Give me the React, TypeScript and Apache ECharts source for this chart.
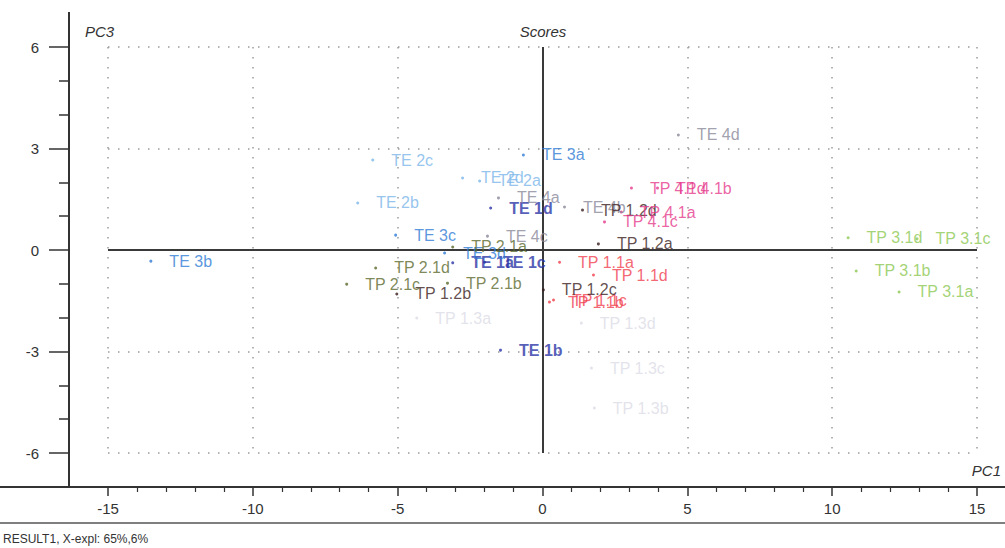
import React, { useEffect, useRef } from "react";
import * as echarts from "echarts";

// ---- data (PC1, PC3 scores) ----
const TE1_LABELS = ["TE 1a", "TE 1b", "TE 1c", "TE 1d"];
const TE1_PC1 = [-3.1, -1.45, -2.0, -1.79];
const TE1_PC3 = [-0.38, -2.96, -0.36, 1.24];

const TE2_LABELS = ["TE 2a", "TE 2b", "TE 2c", "TE 2d"];
const TE2_PC1 = [-2.17, -6.38, -5.86, -2.76];
const TE2_PC3 = [2.04, 1.39, 2.66, 2.13];

const TE3_LABELS = ["TE 3a", "TE 3b", "TE 3c", "TE 3d"];
const TE3_PC1 = [-0.66, -13.52, -5.07, -3.38];
const TE3_PC3 = [2.81, -0.33, 0.44, -0.09];

const TE4_LABELS = ["TE 4a", "TE 4b", "TE 4c", "TE 4d"];
const TE4_PC1 = [-1.52, 0.76, -1.9, 4.69];
const TE4_PC3 = [1.54, 1.27, 0.41, 3.4];

const TP11_LABELS = ["TP 1.1a", "TP 1.1b", "TP 1.1c", "TP 1.1d"];
const TP11_PC1 = [0.59, 0.24, 0.38, 1.76];
const TP11_PC3 = [-0.36, -1.54, -1.48, -0.74];

const TP12_LABELS = ["TP 1.2a", "TP 1.2b", "TP 1.2c", "TP 1.2d"];
const TP12_PC1 = [1.93, -5.03, 0.03, 1.38];
const TP12_PC3 = [0.18, -1.3, -1.18, 1.18];

const TP13_LABELS = ["TP 1.3a", "TP 1.3b", "TP 1.3c", "TP 1.3d"];
const TP13_PC1 = [-4.34, 1.79, 1.69, 1.34];
const TP13_PC3 = [-2.01, -4.67, -3.49, -2.16];

const TP21_LABELS = ["TP 2.1a", "TP 2.1b", "TP 2.1c", "TP 2.1d"];
const TP21_PC1 = [-3.1, -3.28, -6.76, -5.76];
const TP21_PC3 = [0.09, -0.98, -1.01, -0.53];

const TP31_LABELS = ["TP 3.1a", "TP 3.1b", "TP 3.1c", "TP 3.1d"];
const TP31_PC1 = [12.31, 10.83, 12.93, 10.55];
const TP31_PC3 = [-1.24, -0.62, 0.33, 0.36];

const TP41_LABELS = ["TP 4.1a", "TP 4.1b", "TP 4.1c", "TP 4.1d"];
const TP41_PC1 = [2.72, 3.97, 2.14, 3.07];
const TP41_PC3 = [1.12, 1.83, 0.83, 1.83];

const X_TICKS = { min: -15, max: 15, interval: 5 };
const Y_TICKS = { min: -6, max: 6, interval: 3 };

const FONT = "'Liberation Sans', Arial, sans-serif";

const GROUPS = [
  { labels: TE1_LABELS, x: TE1_PC1, y: TE1_PC3, color: "#2a34a6", bold: true },
  { labels: TE2_LABELS, x: TE2_PC1, y: TE2_PC3, color: "#7cb6ea", bold: false },
  { labels: TE3_LABELS, x: TE3_PC1, y: TE3_PC3, color: "#2f7cd4", bold: false },
  { labels: TE4_LABELS, x: TE4_PC1, y: TE4_PC3, color: "#8a8899", bold: false },
  { labels: TP11_LABELS, x: TP11_PC1, y: TP11_PC3, color: "#f0404e", bold: false },
  { labels: TP12_LABELS, x: TP12_PC1, y: TP12_PC3, color: "#3a1e1e", bold: false },
  { labels: TP13_LABELS, x: TP13_PC1, y: TP13_PC3, color: "#dcdce6", bold: false },
  { labels: TP21_LABELS, x: TP21_PC1, y: TP21_PC3, color: "#5c6a2e", bold: false },
  { labels: TP31_LABELS, x: TP31_PC1, y: TP31_PC3, color: "#8cc852", bold: false },
  { labels: TP41_LABELS, x: TP41_PC1, y: TP41_PC3, color: "#e63a8c", bold: false },
];

export default function App() {
  const ref = useRef<HTMLDivElement>(null);
  useEffect(() => {
    if (!ref.current) return;
    const chart = echarts.init(ref.current, undefined, { renderer: "svg" });

    const series: any[] = GROUPS.map((g, gi) => ({
      type: "scatter",
      symbol: "circle",
      symbolSize: 3,
      itemStyle: { color: g.color },
      label: {
        show: true,
        position: "right",
        distance: 17,
        formatter: "{b}",
        color: g.color,
        fontSize: 16,
        fontFamily: FONT,
        fontWeight: g.bold ? "bold" : "normal",
      },
      emphasis: { disabled: true },
      data: g.labels.map((name, i) => ({ name, value: [g.x[i], g.y[i]] })),
      z: 3,
      ...(gi === 0
        ? {
            markLine: {
              silent: true,
              symbol: ["none", "none"],
              label: { show: false },
              lineStyle: { type: "solid", color: "#3a3a3a", width: 2 },
              data: [{ xAxis: 0 }, { yAxis: 0 }],
              z: 2,
            },
          }
        : {}),
    }));

    const splitStyle = { type: [1.5, 8.5], color: "#9a9a9a", width: 1.5 };

    chart.setOption({
      animation: false,
      grid: { left: 108, right: 28, top: 47, bottom: 95 },
      xAxis: {
        type: "value",
        min: X_TICKS.min,
        max: X_TICKS.max,
        interval: X_TICKS.interval,
        offset: 34,
        axisLine: { show: true, onZero: false, lineStyle: { color: "#333", width: 2 } },
        axisTick: { show: true, length: 9, lineStyle: { color: "#333", width: 1.5 } },
        minorTick: { show: true, splitNumber: 5, length: 5, lineStyle: { color: "#333", width: 1.2 } },
        axisLabel: { margin: 14, color: "#333", fontSize: 15, fontFamily: FONT },
        splitLine: { show: true, lineStyle: splitStyle },
      },
      yAxis: {
        type: "value",
        min: Y_TICKS.min,
        max: Y_TICKS.max,
        interval: Y_TICKS.interval,
        offset: 39,
        axisLine: { show: true, onZero: false, lineStyle: { color: "#333", width: 2 } },
        axisTick: { show: true, length: 20, lineStyle: { color: "#333", width: 1.5 } },
        minorTick: { show: true, splitNumber: 3, length: 10, lineStyle: { color: "#333", width: 1.5 } },
        axisLabel: { margin: 30, color: "#333", fontSize: 15, fontFamily: FONT },
        splitLine: { show: true, lineStyle: splitStyle },
      },
      graphic: [
        { type: "line", shape: { x1: 0, y1: 487, x2: 1005, y2: 487 }, style: { stroke: "#333", lineWidth: 2 } },
        { type: "line", shape: { x1: 69, y1: 12, x2: 69, y2: 487 }, style: { stroke: "#333", lineWidth: 2 } },
        { type: "line", shape: { x1: 0, y1: 523, x2: 1005, y2: 523 }, style: { stroke: "#555", lineWidth: 1.5 } },
        {
          type: "text",
          x: 543,
          y: 31,
          style: { text: "Scores", fill: "#333", fontSize: 15, fontStyle: "italic", fontFamily: FONT, align: "center", verticalAlign: "middle" },
        },
        {
          type: "text",
          x: 85,
          y: 31,
          style: { text: "PC3", fill: "#333", fontSize: 15, fontStyle: "italic", fontFamily: FONT, align: "left", verticalAlign: "middle" },
        },
        {
          type: "text",
          x: 1001,
          y: 470,
          style: { text: "PC1", fill: "#333", fontSize: 15, fontStyle: "italic", fontFamily: FONT, align: "right", verticalAlign: "middle" },
        },
        {
          type: "text",
          x: 3,
          y: 539,
          style: { text: "RESULT1, X-expl: 65%,6%", fill: "#333", fontSize: 12, fontFamily: "'Liberation Sans Narrow', 'Liberation Sans', Arial, sans-serif", align: "left", verticalAlign: "middle" },
        },
      ],
      series,
    });

    return () => chart.dispose();
  }, []);

  return (
    <div
      ref={ref}
      style={{ position: "absolute", left: 0, top: 0, width: 1005, height: 548, background: "#fff" }}
    />
  );
}
